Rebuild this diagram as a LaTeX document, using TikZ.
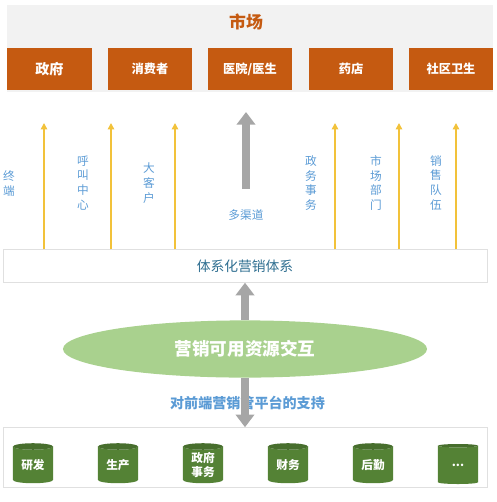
\documentclass[tikz,border=0pt]{standalone}
\usepackage{fontspec}
\setmainfont{Noto Sans CJK SC}
\usetikzlibrary{arrows.meta, shapes.geometric}
\definecolor{mOrange}{HTML}{C55A11}
\definecolor{mGold}{HTML}{F2C23A}
\definecolor{mGray}{HTML}{A6A6A6}
\definecolor{mLightGreen}{HTML}{A9D18E}
\definecolor{mDarkGreen}{HTML}{548235}
\definecolor{mBlue}{HTML}{5B9BD5}
\definecolor{mTeal}{HTML}{2F6F91}

\begin{document}
\begin{tikzpicture}[
  x=0.025cm, y=-0.025cm,
  every node/.style={align=center, inner sep=0pt},
  market/.style={
    fill=mOrange,
    text=white,
    font=\fontsize{8.7}{10}\selectfont\bfseries,
    minimum width=2.1cm,
    minimum height=1.05cm
  },
  channel/.style={
    text=mBlue,
    font=\fontsize{8.3}{10.6}\selectfont
  },
  panel/.style={
    draw=black!12,
    fill=white,
    line width=0.4pt
  },
  store/.style={
    cylinder,
    shape border rotate=90,
    aspect=0.28,
    minimum width=1cm,
    minimum height=1cm,
    cylinder uses custom fill,
    cylinder body fill=mDarkGreen,
    cylinder end fill=mDarkGreen!85!black,
    text=white,
    font=\fontsize{8.3}{9.5}\selectfont\bfseries
  },
  feed/.style={draw=mGold, line width=1.9pt,
    -{Triangle[length=4.5pt, width=4.5pt]}},
  bigarrow/.style={draw=mGray, line width=5.5pt,
    -{Triangle[length=9pt, width=13pt]}}
]
\useasboundingbox (0,0) rectangle (496,502);

% market
\fill[black!5] (7,5) rectangle (493,92);
\node[text=mOrange, font=\fontsize{12}{14}\selectfont\bfseries] (title) at (246,22) {市场};

\node[market, font=\fontsize{10}{12}\selectfont\bfseries] (gov) at (49.5,69) {政府};
\node[market] (consumer) at (150,69) {消费者};
\node[market] (hospital) at (250,69) {医院/医生};
\node[market] (pharmacy) at (351,69) {药店};
\node[market] (community) at (451,69) {社区卫生};

% channels
\node[panel, minimum width=12.1cm, minimum height=0.82cm] (system) at (245,266) {};
\node[text=mTeal, font=\fontsize{9.8}{12}\selectfont] (systemtext) at (245,266) {体系化营销体系};

\coordinate (t1) at (44,123);
\coordinate (t2) at (111,123);
\coordinate (t3) at (175,123);
\coordinate (t4) at (335,123);
\coordinate (t5) at (399,123);
\coordinate (t6) at (456,123);
\coordinate (tmulti) at (246,112);
\coordinate (bmulti) at (246,189);

\draw[feed] (system.north -| t1) -- (t1);
\draw[feed] (system.north -| t2) -- (t2);
\draw[feed] (system.north -| t3) -- (t3);
\draw[feed] (system.north -| t4) -- (t4);
\draw[feed] (system.north -| t5) -- (t5);
\draw[feed] (system.north -| t6) -- (t6);
\draw[bigarrow] (bmulti) -- (tmulti);

\node[channel] (terminal) at (9,184) {终\\端};
\node[channel] (callcenter) at (83,183) {呼\\叫\\中\\心};
\node[channel] (keyaccount) at (149,183) {大\\客\\户};
\node[channel] (govaffairs) at (311,183) {政\\务\\事\\务};
\node[channel] (marketdept) at (376,183) {市\\场\\部\\门};
\node[channel] (salesteam) at (436,183) {销\\售\\队\\伍};
\node[text=mBlue, font=\fontsize{8.3}{10}\selectfont] (multi) at (246,215) {多渠道};

% resources
\node[panel, minimum width=12.1cm, minimum height=1.5cm] (backend) at (245,457.5) {};
\node[text=mBlue, font=\fontsize{10}{12}\selectfont\bfseries] (support) at (247.5,403) {对前端营销管平台的支持};
\node[ellipse, fill=mLightGreen, minimum width=9.1cm, minimum height=1.43cm,
  text=white, font=\fontsize{12.5}{14}\selectfont\bfseries] (pool) at (245,349) {营销可用资源交互};

\draw[bigarrow] (pool.north) -- (system.south);
\draw[bigarrow] (pool.south) -- (backend.north);

\node[store] (rnd) at (33,465) {研发};
\node[store] (production) at (118,465) {生产};
\node[store] (govstore) at (203,465) {政府\\事务};
\node[store] (finance) at (288,465) {财务};
\node[store] (logistics) at (373,465) {后勤};
\node[store] (more) at (458,465) {...};

\end{tikzpicture}
\end{document}
